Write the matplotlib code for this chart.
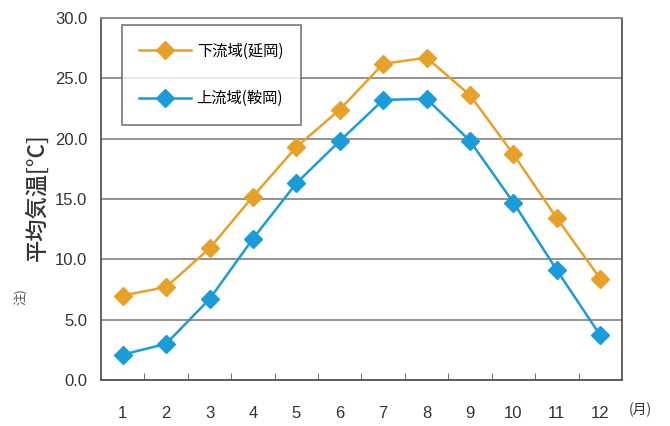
import numpy as np
import matplotlib
matplotlib.use('Agg')
from matplotlib import pyplot as plt

plt.rcParams['font.family'] = ['Liberation Sans', 'Noto Sans CJK JP', 'DejaVu Sans']

months = [1, 2, 3, 4, 5, 6, 7, 8, 9, 10, 11, 12]
month_labels = ['1', '2', '3', '4', '5', '6', '7', '8', '9', '10', '11', '12']
nobeoka = [7.0, 7.7, 10.9, 15.2, 19.3, 22.4, 26.2, 26.7, 23.6, 18.7, 13.4, 8.4]
kuraoka = [2.1, 3.0, 6.7, 11.7, 16.3, 19.8, 23.2, 23.3, 19.8, 14.7, 9.1, 3.7]
name_down = '下流域(延岡)'
name_up = '上流域(鞍岡)'

orange = '#E8A128'
blue = '#1A9BDA'
jp = ['Noto Sans CJK JP', 'DejaVu Sans']

fig = plt.figure(figsize=(6.7, 4.26), dpi=100)
ax = fig.add_axes([0.1507, 0.108, 0.7776, 0.850])

ax.plot(months, nobeoka, color=orange, lw=1.8, marker='D', ms=9, label=name_down)
ax.plot(months, kuraoka, color=blue, lw=1.8, marker='D', ms=9, label=name_up)

ax.set_xlim(0.5, 12.5)
ax.set_ylim(0, 30)
yt = np.arange(0, 31, 5)
ax.set_yticks(yt)
ax.set_yticklabels(['%.1f' % v for v in yt], fontsize=12, color='#333333')
ax.yaxis.grid(True, color='#8a8a8a', lw=1.3)
ax.set_axisbelow(True)

ax.set_xticks(months)
ax.set_xticklabels(month_labels, fontsize=12, color='#333333')
ax.set_xticks(np.arange(1.5, 12, 1), minor=True)
ax.tick_params(axis='x', which='major', length=0, pad=19)
ax.tick_params(axis='x', which='minor', direction='in', length=5, color='#555555')
ax.tick_params(axis='y', length=0, pad=10)

for s in ax.spines.values():
    s.set_color('#555555')
    s.set_linewidth(1.3)
ax.spines['top'].set_color('#8a8a8a')

ax.set_ylabel('平均気温[°C]', fontsize=16, family=jp,
              fontweight='medium', color='#333333')
ax.yaxis.set_label_coords(-0.100, 0.505)

leg = ax.legend(loc='upper left', bbox_to_anchor=(0.04, 0.98),
                prop={'family': jp, 'size': 11},
                frameon=True, fancybox=False, edgecolor='#555555',
                handlelength=3.4, handletextpad=0.35, labelspacing=2.0,
                borderpad=1.15, borderaxespad=0)
leg.get_frame().set_linewidth(1.2)

fig.text(0.032, 0.303, '注)', rotation=90, fontsize=9, color='#555555',
         family=['Noto Sans CJK JP'], ha='center', va='center')
fig.text(0.955, 0.037, '(月)', fontsize=10, color='#333333',
         family=['Noto Sans CJK JP'], ha='center', va='center')

fig.savefig('out.png', dpi=100)
